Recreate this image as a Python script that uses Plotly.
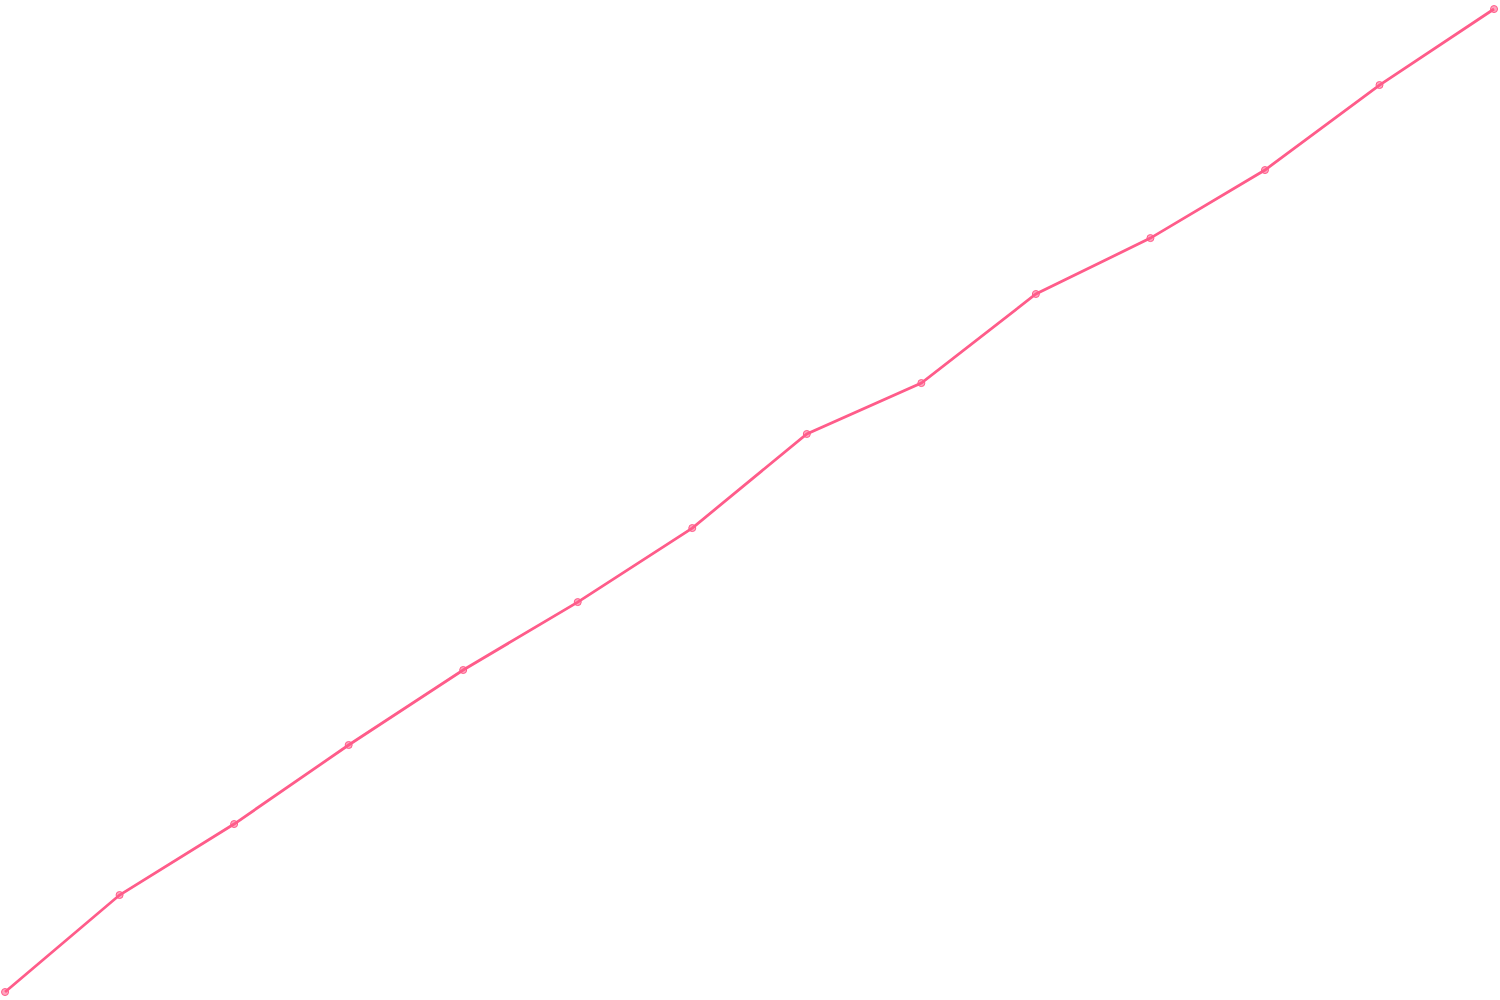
import plotly.graph_objects as go

# values (index along x, 0-100 scale on y)
steps = list(range(14))
values = [0, 9.87, 17.09, 25.13, 32.76, 39.67, 47.20, 56.77, 61.95, 71.01, 76.70, 83.62, 92.27, 100]

line_color = "#ff5c8a"

fig = go.Figure()
fig.add_trace(go.Scatter(
    x=steps,
    y=values,
    mode="lines+markers",
    line=dict(color=line_color, width=2.8),
    marker=dict(size=7, color="rgba(255,92,138,0.55)",
                line=dict(color=line_color, width=1)),
    showlegend=False,
    hoverinfo="skip",
))

fig.update_layout(
    width=1500,
    height=1000,
    margin=dict(l=0, r=0, t=0, b=0),
    paper_bgcolor="white",
    plot_bgcolor="white",
    xaxis=dict(visible=False, range=[-0.044, 13.052]),
    yaxis=dict(visible=False, range=[-0.81, 100.92]),
)

# drop the default page margin so the chart sits flush with the window
fig.write_html("out.html",
               config={"displayModeBar": False},
               post_script="document.body.style.margin='0';")
